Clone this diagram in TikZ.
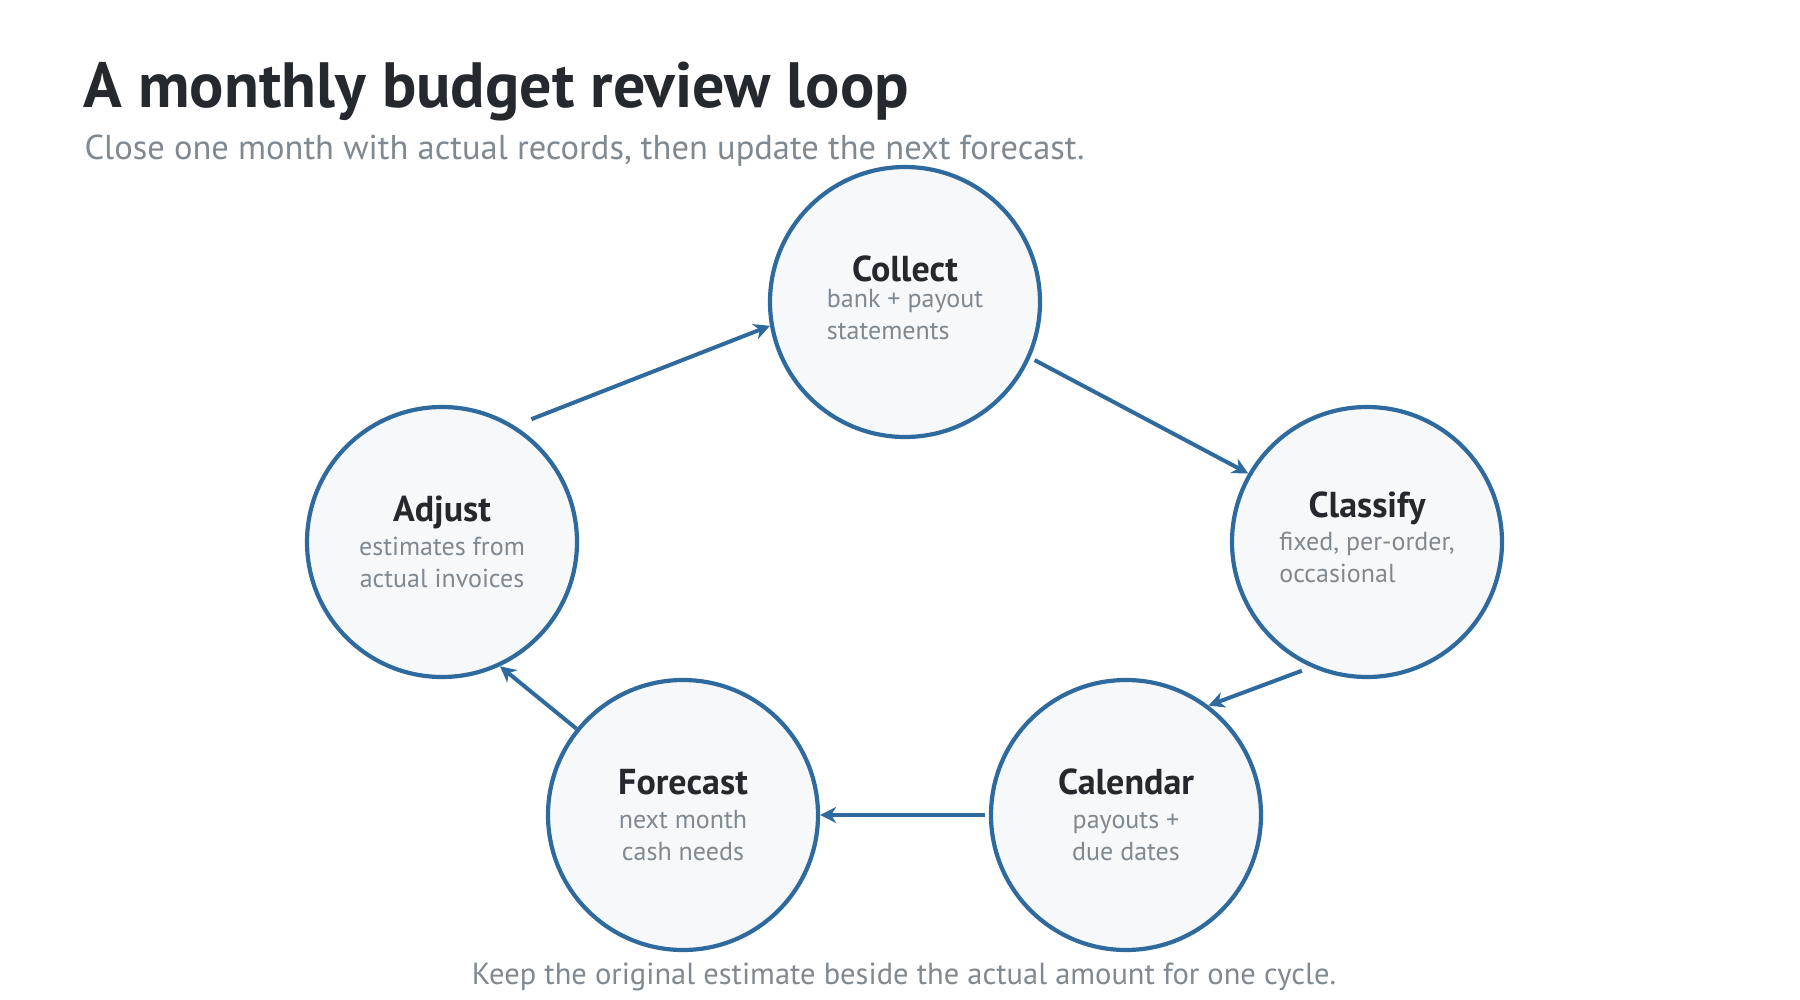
\documentclass[tikz,border=0pt]{standalone}
\usepackage{fontspec}
\setmainfont{PT Sans}
\usetikzlibrary{arrows.meta,positioning}
\definecolor{loopblue}{HTML}{2E6A9E}
\definecolor{loopfill}{HTML}{F6F8FA}
\definecolor{ink}{HTML}{25282D}
\definecolor{mute}{HTML}{808890}
\tikzset{
	stage/.style={circle,draw=loopblue,fill=loopfill,line width=4.2pt,minimum size=270pt,inner sep=0pt,align=center,font=\fontsize{26}{32}\selectfont\color{mute}},
	flow/.style={draw=loopblue,line width=4pt,arrows={-Stealth[length=16pt,width=16pt,inset=5pt]}}
}
\newcommand{\stagename}[1]{{\fontsize{36}{42}\selectfont\bfseries\color{ink}#1}}

\begin{document}
\begin{tikzpicture}[x=1pt,y=-1pt]
			\useasboundingbox (0,0) rectangle (1800,1000);
			\node[anchor=west,font=\fontsize{64}{70}\selectfont\bfseries\color{ink}] (title) at (80,92) {A monthly budget review loop};
			\node[anchor=west,font=\fontsize{34.5}{40}\selectfont\color{mute}] (sub) at (81,151) {Close one month with actual records, then update the next forecast.};
			
			\node[stage] (collect) at (905,302) {\stagename{Collect}\\[2pt]\begin{tabular}{@{}l@{}}bank + payout\\statements\end{tabular}};
			\node[stage] (classify) at (1367,542) {\stagename{Classify}\\[2pt]\begin{tabular}{@{}l@{}}fixed, per-order,\\occasional\end{tabular}};
			\node[stage] (calendar) at (1126,815) {\stagename{Calendar}\\[2pt]payouts +\\due dates};
			\node[stage] (forecast) at (683,815) {\stagename{Forecast}\\[2pt]next month\\cash needs};
			\node[stage] (adjust) at (442,542) {\stagename{Adjust}\\[2pt]estimates from\\actual invoices};
			
			\draw[flow,shorten <=18pt] (adjust.58) -- (collect.190);
			\draw[flow,shorten <=5pt] (collect.-24) -- (classify.150);
			\draw[flow,shorten <=10pt] (classify.-114) -- (calendar.53);
			\draw[flow,shorten <=4pt] (calendar.180) -- (forecast.0);
			\draw[flow] (forecast.141) -- (adjust.-65);
			
			\node[font=\fontsize{30.5}{36}\selectfont\color{mute}] (note) at (904,977) {Keep the original estimate beside the actual amount for one cycle.};
		\end{tikzpicture}
\end{document}
